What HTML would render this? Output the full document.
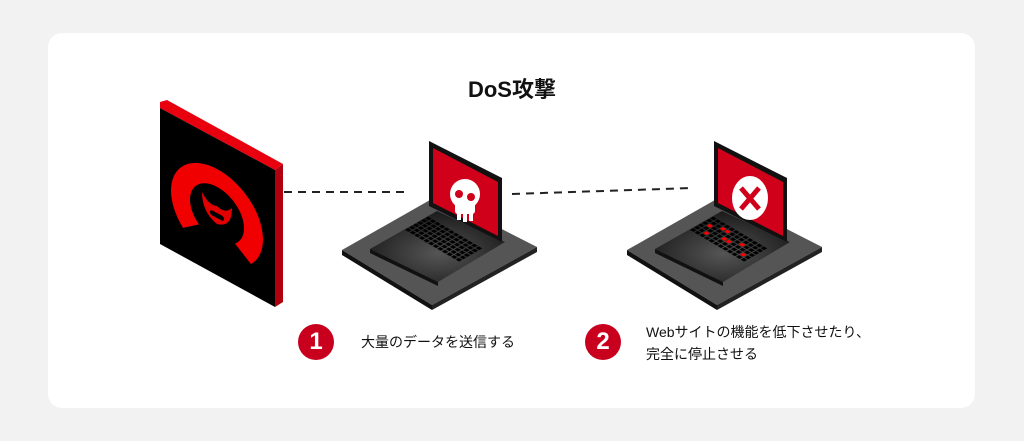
<!DOCTYPE html>
<html><head><meta charset="utf-8"><style>
html,body{margin:0;padding:0;background:#f2f2f2;width:1024px;height:441px;overflow:hidden}
.card{position:absolute;left:48px;top:33px;width:927px;height:375px;background:#fff;border-radius:14px}
.t{position:absolute;font-family:"Liberation Sans","Noto Sans CJK JP",sans-serif;color:#111;white-space:nowrap}
.num{position:absolute;width:36px;height:36px;border-radius:50%;background:#c8001e;color:#fff;font:bold 24px "Liberation Sans",sans-serif;text-align:center;line-height:36px}
</style></head><body>
<div class="card"></div>
<svg width="1024" height="441" style="position:absolute;left:0;top:0">
<defs>
<clipPath id="face"><polygon points="160,108 275,170 275,307 160,244"/></clipPath>
<radialGradient id="kb" cx="0.5" cy="0.6" r="0.6"><stop offset="0" stop-color="#555"/><stop offset="1" stop-color="#1a1a1a"/></radialGradient>
<pattern id="kp" width="1" height="1" patternUnits="userSpaceOnUse"><rect x="0.12" y="0.12" width="0.76" height="0.76" fill="#000"/></pattern>
</defs>
<polygon points="160,102 167,100 283,164 275,170 160,108" fill="#e8000f"/>
<polygon points="275,170 283,164 283,302 275,307" fill="#b00010"/>
<polygon points="160,108 275,170 275,307 160,244" fill="#000"/>
<g clip-path="url(#face)">
<g transform="translate(217,200) skewY(28)">
<path d="M-34,46 A46,46 0 1 1 34,46 L18,34 A27,27 0 1 0 -18,34 Z" fill="#f00000"/>
<path d="M-15,0 q7,10 15,6 q8,4 15,-6 q0,20 -15,24 q-15,-4 -15,-24z" fill="#e00000"/>
<rect x="-7" y="13" width="14" height="5" rx="2.5" fill="#000"/>
</g>
</g>
<line x1="284" y1="192" x2="407" y2="192" stroke="#222" stroke-width="2" stroke-dasharray="8,6"/>
<line x1="512" y1="194" x2="693" y2="188" stroke="#222" stroke-width="2" stroke-dasharray="8,6"/>
<g>
<polygon points="342,250 437,196 537,247 432,305" fill="#555"/>
<polygon points="342,250 432,305 432,310 342,255" fill="#111"/>
<polygon points="432,305 537,247 537,252 432,310" fill="#222"/>
<polygon points="370,249 437,211 505,242 438,282" fill="url(#kb)"/>
<polygon points="370,249 438,282 438,286 370,253" fill="#111"/>
<polygon points="429,141 502,178 502,242 429,206" fill="#111"/>
<polygon points="433,148 498,182 498,236 433,203" fill="#d0001a"/>
</g>
<g transform="translate(285,0)">
<polygon points="342,250 437,196 537,247 432,305" fill="#555"/>
<polygon points="342,250 432,305 432,310 342,255" fill="#111"/>
<polygon points="432,305 537,247 537,252 432,310" fill="#222"/>
<polygon points="370,249 437,211 505,242 438,282" fill="url(#kb)"/>
<polygon points="370,249 438,282 438,286 370,253" fill="#111"/>
<polygon points="429,141 502,178 502,242 429,206" fill="#111"/>
<polygon points="433,148 498,182 498,236 433,203" fill="#d0001a"/>
</g>
<g transform="matrix(4.6,2.7,-4.0,2.3,428,216)">
<rect x="0" y="0" width="12" height="6" fill="url(#kp)"/>
</g>
<g transform="matrix(4.6,2.7,-4.0,2.3,713,216)">
<rect x="0" y="0" width="12" height="6" fill="url(#kp)"/>
<g fill="#f00">
<rect x="1.12" y="2.12" width="0.76" height="0.76"/><rect x="2.12" y="4.12" width="0.76" height="0.76"/>
<rect x="4.12" y="1.12" width="0.76" height="0.76"/><rect x="5.12" y="3.12" width="0.76" height="0.76"/>
<rect x="6.12" y="3.12" width="0.76" height="0.76"/><rect x="8.12" y="2.12" width="0.76" height="0.76"/>
<rect x="10.12" y="4.12" width="0.76" height="0.76"/><rect x="3.12" y="1.12" width="0.76" height="0.76"/>
</g>
</g>
<g fill="#fff">
<ellipse cx="465" cy="194" rx="15" ry="15"/>
<rect x="455" y="202" width="20" height="12" rx="3"/>
<rect x="457" y="212" width="4" height="8"/><rect x="463" y="212" width="4" height="10"/><rect x="469" y="212" width="4" height="9"/>
</g>
<circle cx="459" cy="194" r="4" fill="#d0001a"/><circle cx="471" cy="197" r="4" fill="#d0001a"/>
<ellipse cx="750" cy="198" rx="18" ry="22" fill="#fff"/>
<g stroke="#d0001a" stroke-width="5"><line x1="741" y1="188" x2="759" y2="209"/><line x1="759" y1="188" x2="741" y2="209"/></g>
</svg>
<div class="t" style="left:0;width:1024px;text-align:center;top:72px;font-size:22px;font-weight:bold">DoS攻撃</div>
<div class="num" style="left:298px;top:324px">1</div>
<div class="t" style="left:361px;top:332px;font-size:14px">大量のデータを送信する</div>
<div class="num" style="left:585px;top:324px">2</div>
<div class="t" style="left:646px;top:321px;font-size:14px;line-height:22px">Webサイトの機能を低下させたり、<br>完全に停止させる</div>
</body></html>
